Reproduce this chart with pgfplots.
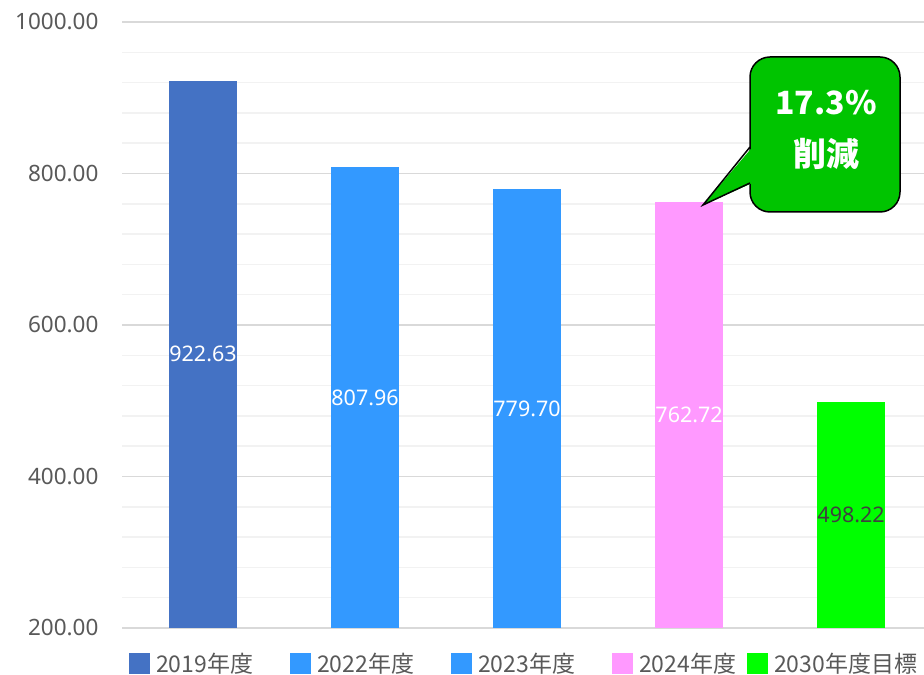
\documentclass[border=0pt]{standalone}
\usepackage{fontspec}
\usepackage{pgfplots}
\pgfplotsset{compat=1.18}
\setmainfont{Noto Sans}
\newfontfamily\jp{Noto Sans CJK JP}
\definecolor{c2019}{HTML}{4472C4}
\definecolor{c2022}{HTML}{3399FF}
\definecolor{c2024}{HTML}{FF99FF}
\definecolor{c2030}{HTML}{00FF00}
\definecolor{callout}{HTML}{00C400}
\definecolor{ticktxt}{HTML}{595959}
\definecolor{gridmaj}{HTML}{D9D9D9}
\definecolor{gridmin}{HTML}{F2F2F2}
\definecolor{darklbl}{HTML}{404040}
\pgfplotsset{
  sqlegend/.style={legend image code/.code={\fill[##1,draw=none] (0bp,-10.5bp) rectangle (21bp,10.5bp);}},
  barlbl/.style 2 args={
    nodes near coords={\pgfmathprintnumber[fixed,fixed zerofill,precision=2,assume math mode=true]{\pgfplotspointmeta}},
    point meta=y,
    every node near coord/.append style={anchor=center, yshift=-#1bp, text=#2, inner sep=0pt,
      font=\fontsize{21.5bp}{25bp}\selectfont}
  }
}
\begin{document}
\begin{tikzpicture}
\useasboundingbox (0,0) rectangle (924bp,675bp);
\begin{axis}[
  at={(122bp,47bp)}, anchor=south west,
  scale only axis, width=802bp, height=606bp,
  xmin=-0.5, xmax=4.45, ymin=200, ymax=1000,
  ybar, bar width=0.42, bar shift=0pt,
  xtick=\empty,
  ytick={200,400,600,800,1000}, minor y tick num=4,
  scaled y ticks=false,
  ymajorgrids, yminorgrids,
  axis line style={draw=none},
  tick style={draw=none},
  major tick length=0pt, minor tick length=0pt,
  major grid style={line width=1.5bp, color=gridmaj},
  minor grid style={line width=1.5bp, color=gridmin},
  yticklabel style={font=\fontsize{22.5bp}{26bp}\selectfont, text=ticktxt, xshift=-20bp,
    /pgf/number format/fixed, /pgf/number format/fixed zerofill,
    /pgf/number format/precision=2, /pgf/number format/1000 sep={},
    /pgf/number format/assume math mode=true},
  legend columns=5,
  legend style={at={(0.0087,-0.0586)}, anchor=west, draw=none, fill=none,
    inner sep=0pt, column sep=6bp, nodes={inner sep=0pt},
    font=\jp\fontsize{23bp}{27bp}\selectfont, text=ticktxt},
]
\addplot[fill=c2019, draw=none, sqlegend, barlbl={273.7}{white}] coordinates {(0,922.63)};
\addlegendentry{\makebox[128bp][l]{2019年度}}
\addplot[fill=c2022, draw=none, sqlegend, barlbl={230.3}{white}] coordinates {(1,807.96)};
\addlegendentry{\makebox[128bp][l]{2022年度}}
\addplot[fill=c2022, draw=none, sqlegend, barlbl={219.6}{white}] coordinates {(2,779.70)};
\addlegendentry{\makebox[128bp][l]{2023年度}}
\addplot[fill=c2024, draw=none, sqlegend, barlbl={213.1}{white}] coordinates {(3,762.72)};
\addlegendentry{\makebox[102bp][l]{2024年度}}
\addplot[fill=c2030, draw=none, sqlegend, barlbl={113}{darklbl}] coordinates {(4,498.22)};
\addlegendentry{2030年度目標}
\end{axis}
% callout annotation
\draw[line width=1.5bp, fill=callout, rounded corners=20bp] (750bp,463bp) rectangle (900bp,618bp);
\fill[callout] (703bp,470bp) -- (752.5bp,528bp) -- (752.5bp,492bp) -- cycle;
\draw[line width=1.5bp, line join=miter] (750bp,528bp) -- (703bp,470bp) -- (750bp,492bp);
\node[text=white, font=\jp\bfseries\fontsize{32bp}{36bp}\selectfont] at (826bp,572bp) {17.3\%};
\node[text=white, font=\jp\bfseries\fontsize{33bp}{36bp}\selectfont] at (826bp,521bp) {削減};
\end{tikzpicture}
\end{document}
